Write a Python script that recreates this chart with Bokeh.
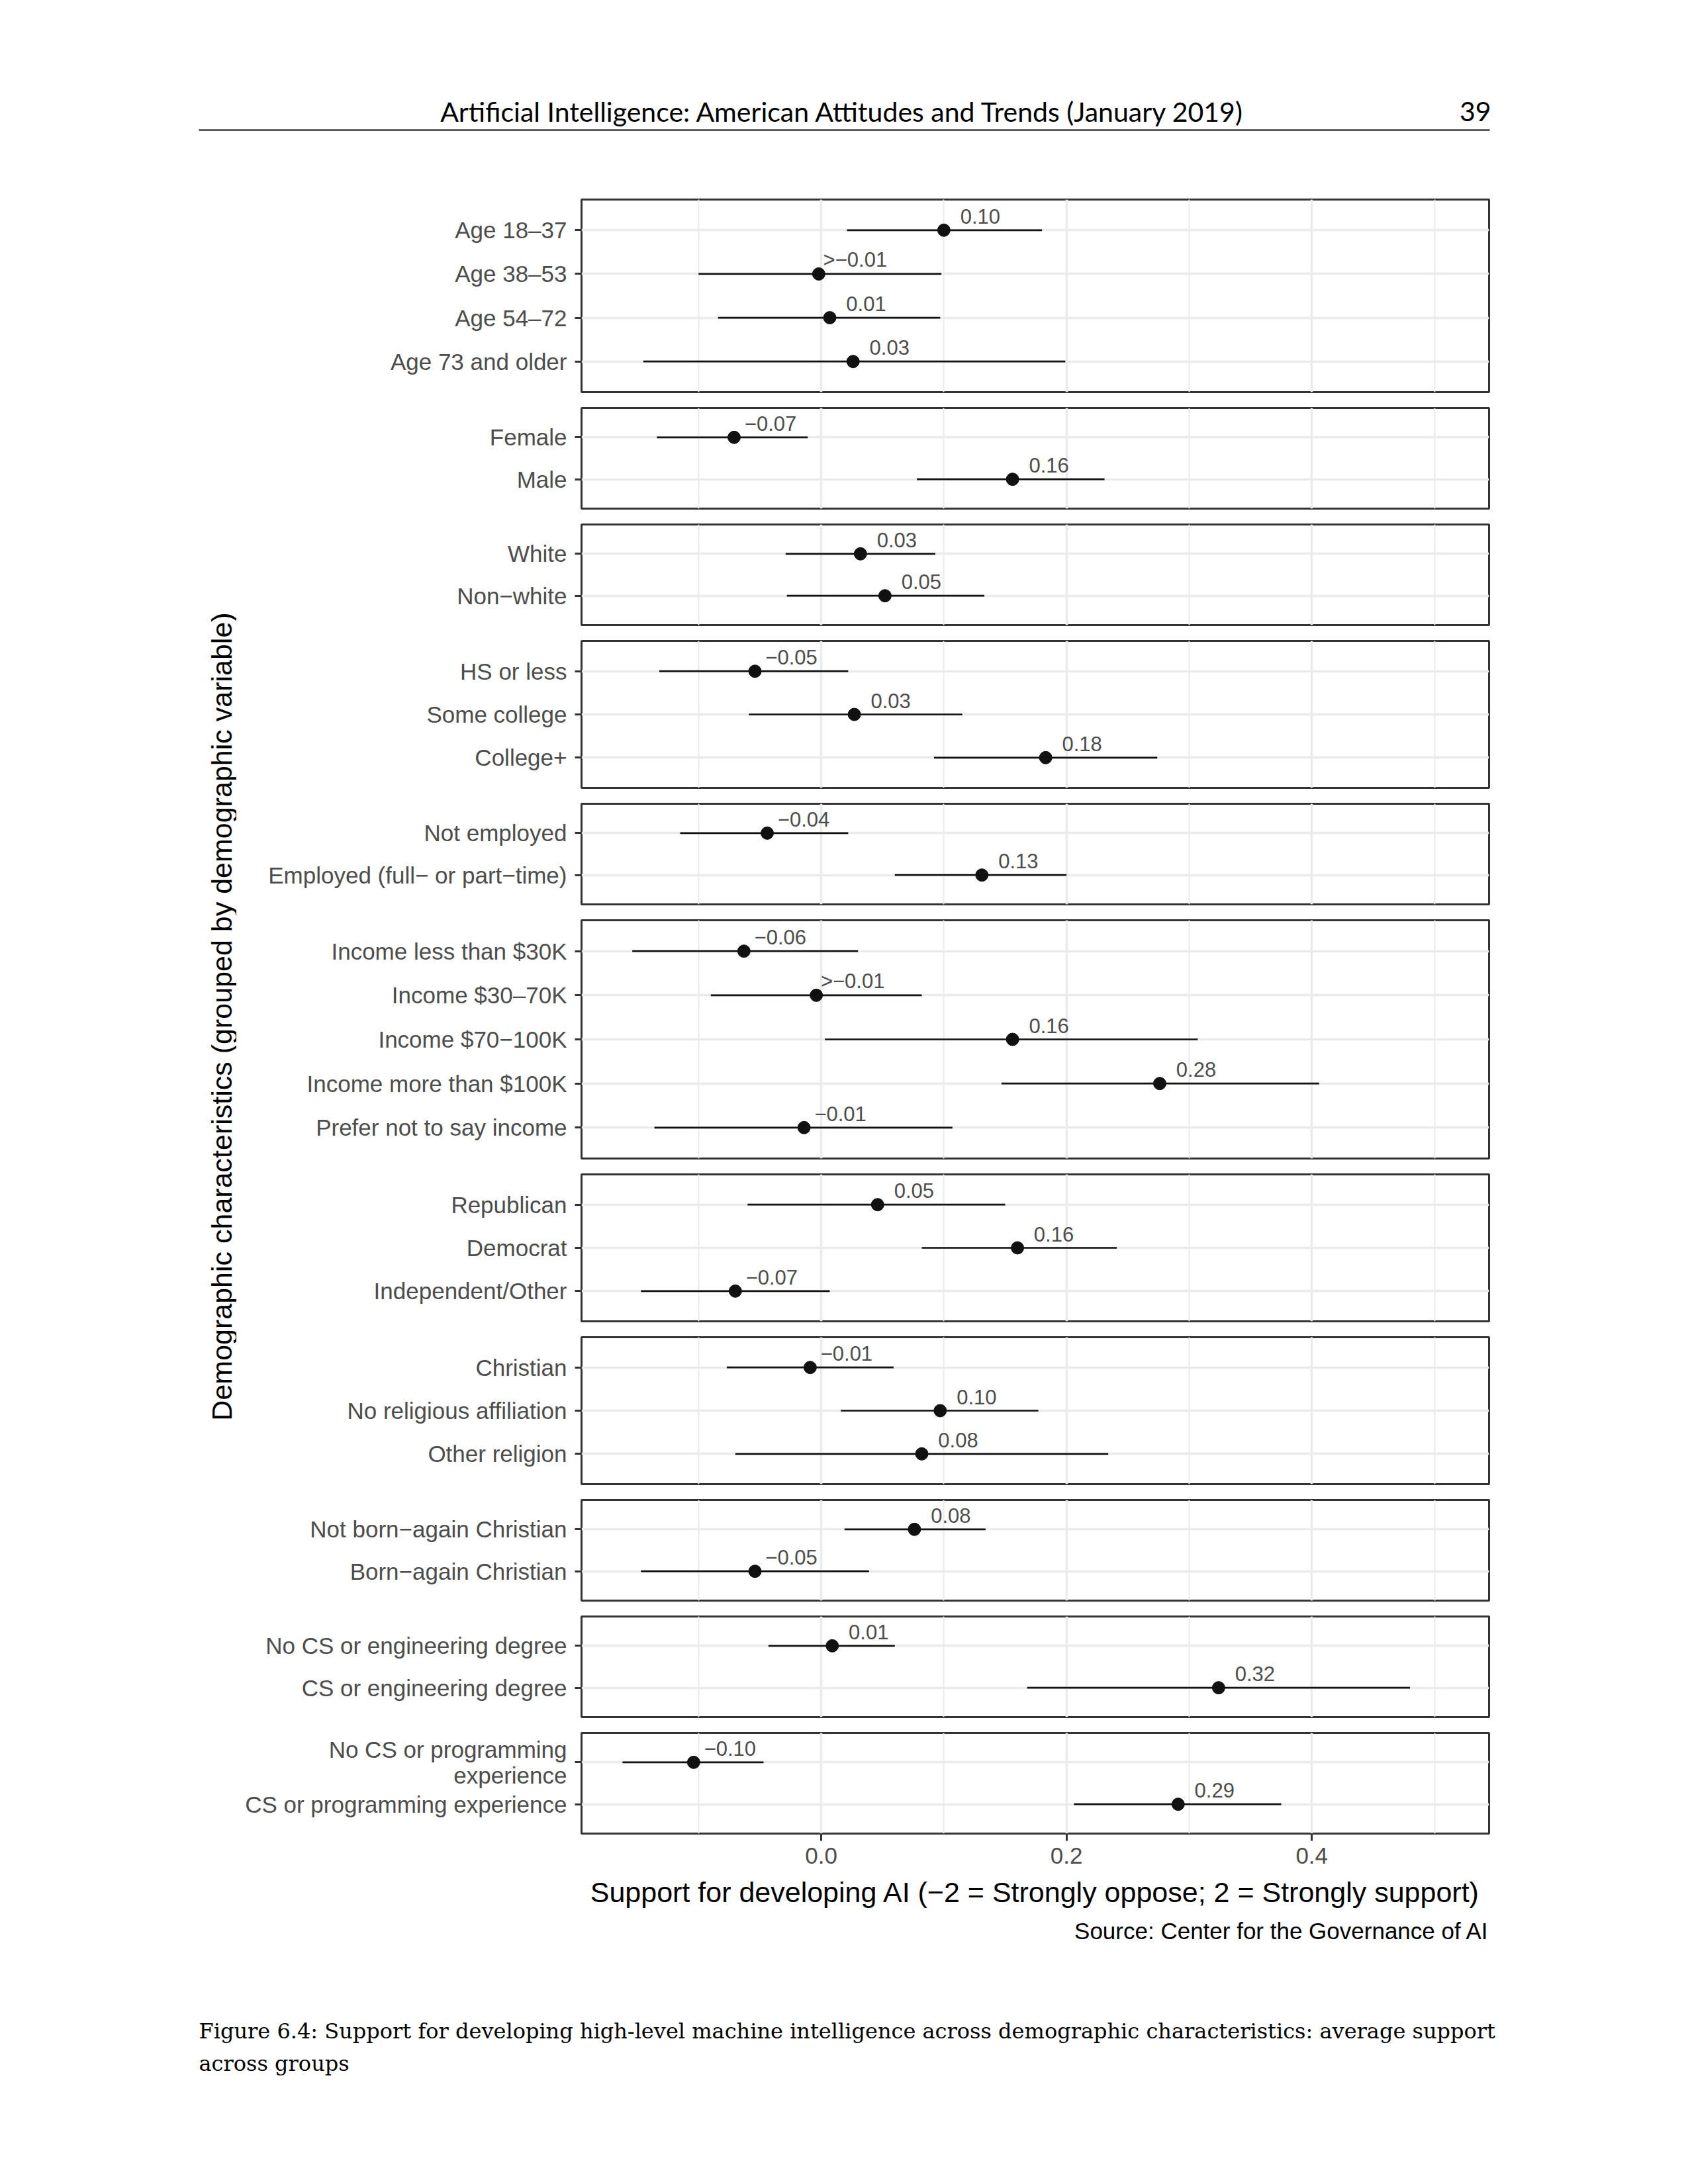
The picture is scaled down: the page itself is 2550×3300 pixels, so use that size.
import math
from bokeh.plotting import figure
from bokeh.models import (ColumnDataSource, FactorRange, Range1d, FixedTicker, Grid, Label,
                          NumeralTickFormatter)
from bokeh.layouts import column, row
from bokeh.embed import file_html
from bokeh.resources import INLINE
from bokeh.core.properties import value

# ---------------- data ----------------
groups = ["Age", "Gender", "Race", "Education", "Employment", "Income", "Party",
          "Religion", "Born-again", "CS degree", "CS programming"]

categories = [
    "Age 18\u201337", "Age 38\u201353", "Age 54\u201372", "Age 73 and older",
    "Female", "Male",
    "White", "Non\u2212white",
    "HS or less", "Some college", "College+",
    "Not employed", "Employed (full\u2212 or part\u2212time)",
    "Income less than $30K", "Income $30\u201370K", "Income $70\u2212100K",
    "Income more than $100K", "Prefer not to say income",
    "Republican", "Democrat", "Independent/Other",
    "Christian", "No religious affiliation", "Other religion",
    "Not born\u2212again Christian", "Born\u2212again Christian",
    "No CS or engineering degree", "CS or engineering degree",
    "No CS or programming\nexperience", "CS or programming experience",
]
group_of = (["Age"] * 4 + ["Gender"] * 2 + ["Race"] * 2 + ["Education"] * 3 +
            ["Employment"] * 2 + ["Income"] * 5 + ["Party"] * 3 + ["Religion"] * 3 +
            ["Born-again"] * 2 + ["CS degree"] * 2 + ["CS programming"] * 2)

estimates = [0.100, -0.002, 0.007, 0.026,
             -0.071, 0.156,
             0.032, 0.052,
             -0.054, 0.027, 0.183,
             -0.044, 0.131,
             -0.063, -0.004, 0.156, 0.276, -0.014,
             0.046, 0.160, -0.070,
             -0.009, 0.097, 0.082,
             0.076, -0.054,
             0.009, 0.324,
             -0.104, 0.291]
ci_low = [0.021, -0.100, -0.084, -0.145,
          -0.134, 0.078,
          -0.029, -0.028,
          -0.132, -0.059, 0.092,
          -0.115, 0.060,
          -0.154, -0.090, 0.003, 0.147, -0.136,
          -0.060, 0.082, -0.147,
          -0.077, 0.016, -0.070,
          0.019, -0.147,
          -0.043, 0.168,
          -0.162, 0.206]
ci_high = [0.180, 0.098, 0.097, 0.199,
           -0.011, 0.231,
           0.093, 0.133,
           0.022, 0.115, 0.274,
           0.022, 0.200,
           0.030, 0.082, 0.307, 0.406, 0.107,
           0.150, 0.241, 0.007,
           0.059, 0.177, 0.234,
           0.134, 0.039,
           0.060, 0.480,
           -0.047, 0.375]
value_labels = ["0.10", ">\u22120.01", "0.01", "0.03",
                "\u22120.07", "0.16",
                "0.03", "0.05",
                "\u22120.05", "0.03", "0.18",
                "\u22120.04", "0.13",
                "\u22120.06", ">\u22120.01", "0.16", "0.28", "\u22120.01",
                "0.05", "0.16", "\u22120.07",
                "\u22120.01", "0.10", "0.08",
                "0.08", "\u22120.05",
                "0.01", "0.32",
                "\u22120.10", "0.29"]

x_ticks = [0.0, 0.2, 0.4]
x_minor_ticks = [-0.1, 0.1, 0.3, 0.5]

header_text = "Artificial Intelligence: American Attitudes and Trends (January 2019)"
page_number = "39"
y_title = "Demographic characteristics (grouped by demographic variable)"
x_title = "Support for developing AI (\u22122 = Strongly oppose; 2 = Strongly support)"
source_text = "Source: Center for the Governance of AI"
caption_lines = ["Figure 6.4: Support for developing high-level machine intelligence across demographic characteristics: average support",
                 "across groups"]

# ---------------- layout constants (page pixels) ----------------
LEFT_W = 357
BORDER_L = 521
FRAME_W = 1371
BORDER_R = 32
PAGE_W = LEFT_W + BORDER_L + FRAME_W + BORDER_R
STEP = 69.3
GAP_HALF = 12
HEADER_H = 289
LAST_BOTTOM = 66
FOOTER_H = 400
X_RANGE = Range1d(-0.1954, 0.5445)
FRAME_L = LEFT_W + BORDER_L
FRAME_R = FRAME_L + FRAME_W

SANS = value("Liberation Sans")
GRID_COL = "#EBEBEB"
DARK = "#333333"
TICK_TXT = "#4D4D4D"

# ---------------- panels ----------------
panels = []
frame_heights = []
for gi, g in enumerate(groups):
    idx = [i for i, gg in enumerate(group_of) if gg == g]
    cats = [categories[i] for i in idx]
    n = len(cats)
    last = gi == len(groups) - 1
    fh = int(round((n + 0.2) * STEP))
    frame_heights.append(fh)
    src = ColumnDataSource(dict(
        cat=cats,
        est=[estimates[i] for i in idx],
        lo=[ci_low[i] for i in idx],
        hi=[ci_high[i] for i in idx],
        lab=[value_labels[i] for i in idx],
    ))
    p = figure(frame_width=FRAME_W, frame_height=fh,
               x_range=X_RANGE,
               y_range=FactorRange(factors=cats[::-1], range_padding=0.2,
                                   range_padding_units="absolute"),
               x_axis_location="below" if last else None,
               y_axis_location="left",
               output_backend="svg", toolbar_location=None,
               min_border_left=BORDER_L, min_border_right=BORDER_R,
               min_border_top=GAP_HALF,
               min_border_bottom=LAST_BOTTOM if last else GAP_HALF,
               background_fill_color="white", border_fill_color="white",
               outline_line_color=DARK, outline_line_width=3)

    p.ygrid.grid_line_color = GRID_COL
    p.ygrid.grid_line_width = 3.5
    ticker = FixedTicker(ticks=x_ticks, minor_ticks=x_minor_ticks)
    if last:
        p.xaxis.ticker = ticker
        p.xgrid.grid_line_color = GRID_COL
        p.xgrid.grid_line_width = 3.5
        p.xgrid.minor_grid_line_color = GRID_COL
        p.xgrid.minor_grid_line_width = 2
        ax = p.xaxis[0]
        ax.formatter = NumeralTickFormatter(format="0.0")
        ax.axis_line_color = None
        ax.major_tick_out = 11
        ax.major_tick_in = 0
        ax.major_tick_line_width = 3
        ax.major_tick_line_color = DARK
        ax.minor_tick_line_color = None
        ax.major_label_text_font = "Liberation Sans"
        ax.major_label_text_font_size = "35px"
        ax.major_label_text_color = TICK_TXT
        ax.major_label_standoff = 10
    else:
        p.add_layout(Grid(dimension=0, ticker=ticker, grid_line_color=GRID_COL,
                          grid_line_width=3.5, minor_grid_line_color=GRID_COL,
                          minor_grid_line_width=2))

    yax = p.yaxis[0]
    yax.axis_line_color = None
    yax.major_tick_out = 10
    yax.major_tick_in = 0
    yax.major_tick_line_width = 3
    yax.major_tick_line_color = DARK
    yax.major_label_text_font = "Liberation Sans"
    yax.major_label_text_font_size = "35px"
    yax.major_label_text_color = TICK_TXT
    yax.major_label_text_line_height = 1.0
    yax.major_label_standoff = 12

    p.segment(x0="lo", y0="cat", x1="hi", y1="cat", source=src,
              line_color="#111111", line_width=2.7)
    p.scatter(x="est", y="cat", source=src, size=19, fill_color="#111111",
              line_color="#111111")
    p.text(x="est", y="cat", text="lab", source=src, x_offset=55, y_offset=-21,
           text_align="center", text_baseline="middle", text_font=SANS,
           text_font_size="31px", text_color=TICK_TXT)
    panels.append(p)

col_h = sum(frame_heights) + GAP_HALF * 2 * (len(groups) - 1) + GAP_HALF + LAST_BOTTOM
panels_span = sum(frame_heights) + GAP_HALF * 2 * (len(groups) - 1)
FOOTER_TOP = HEADER_H + col_h

# ---------------- y title ----------------
yt = figure(width=LEFT_W, height=col_h, x_range=Range1d(0, LEFT_W), y_range=Range1d(0, col_h),
            x_axis_location=None, y_axis_location=None, output_backend="svg",
            toolbar_location=None, min_border=0, outline_line_color=None)
yt.grid.visible = False
yt.add_layout(Label(x=334, y=col_h - GAP_HALF - panels_span / 2, text=y_title,
                    angle=math.pi / 2, text_align="center", text_baseline="middle",
                    text_font="Liberation Sans", text_font_size="43px", text_color="black"))

# ---------------- header ----------------
hd = figure(width=PAGE_W, height=HEADER_H, x_range=Range1d(0, PAGE_W), y_range=Range1d(HEADER_H, 0),
            x_axis_location=None, y_axis_location=None, output_backend="svg",
            toolbar_location=None, min_border=0, outline_line_color=None)
hd.grid.visible = False
TEXT_L, TEXT_R = 300, 2250
hd.add_layout(Label(x=1273, y=168, text=header_text, text_align="center",
                    text_baseline="middle", text_font="Lato", text_font_size="41px",
                    text_color="black"))
hd.add_layout(Label(x=TEXT_R + 2, y=168, text=page_number, text_align="right",
                    text_baseline="middle", text_font="Lato", text_font_size="41px",
                    text_color="black"))
hd.segment(x0=[TEXT_L], y0=[196], x1=[TEXT_R], y1=[196], line_color="black", line_width=2)

# ---------------- footer ----------------
ft = figure(width=PAGE_W, height=FOOTER_H, x_range=Range1d(0, PAGE_W), y_range=Range1d(FOOTER_H, 0),
            x_axis_location=None, y_axis_location=None, output_backend="svg",
            toolbar_location=None, min_border=0, outline_line_color=None)
ft.grid.visible = False
ft.add_layout(Label(x=(FRAME_L + FRAME_R) / 2, y=2858 - FOOTER_TOP, text=x_title,
                    text_align="center", text_baseline="middle",
                    text_font="Liberation Sans", text_font_size="43px", text_color="black"))
ft.add_layout(Label(x=FRAME_R, y=2917 - FOOTER_TOP, text=source_text, text_align="right",
                    text_baseline="middle", text_font="Liberation Sans",
                    text_font_size="35px", text_color="black"))
for k, line in enumerate(caption_lines):
    ft.add_layout(Label(x=TEXT_L, y=3068 + 49 * k - FOOTER_TOP, text=line, text_align="left",
                        text_baseline="middle", text_font="DejaVu Serif",
                        text_font_size="32px", text_color="black"))

layout = column(hd, row(yt, column(*panels, spacing=0), spacing=0), ft, spacing=0)

open("out.html", "w").write(file_html(layout, INLINE))
